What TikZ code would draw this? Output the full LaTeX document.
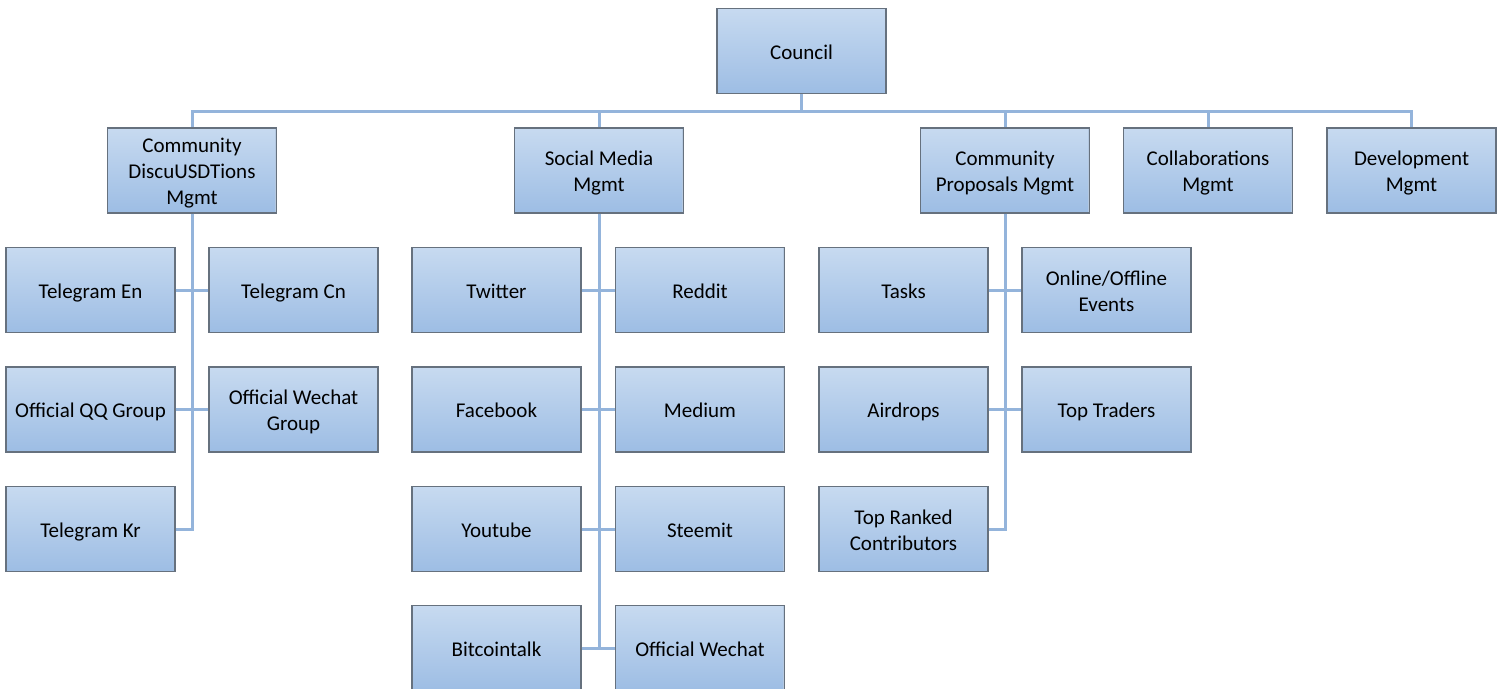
\documentclass[tikz,border=0pt]{standalone}
\usepackage{fontspec}
\setmainfont{Carlito}
\definecolor{topc}{HTML}{C7DAF0}
\definecolor{botc}{HTML}{9DBDE4}
\definecolor{edge}{HTML}{66717E}
\definecolor{redge}{HTML}{B4C8E0}
\definecolor{conn}{HTML}{94B4DB}
% lines of a box, with 6pt more room above than below
\newcommand\bx[1]{\begin{tabular}{@{}c@{}}\rule{0pt}{24.2pt}#1\end{tabular}}
\tikzset{
  orgbox/.style={rectangle, minimum width=169pt, minimum height=85pt, inner sep=0pt,
    top color=topc, bottom color=botc, draw=edge, line width=1.4pt,
    font=\fontsize{21pt}{26pt}\selectfont, text=black,
    path picture={\draw[redge, line width=2.2pt] (path picture bounding box.north east) -- (path picture bounding box.south east);}},
  link/.style={draw=conn, line width=3pt}
}
\begin{document}
\begin{tikzpicture}[x=1pt,y=-1pt]
\useasboundingbox (0,0) rectangle (1504,688);
% level 1
\node[orgbox] (council) at (801.5,51) {\bx{Council}};
% level 2
\node[orgbox] (cd) at (192,170.5) {\bx{Community\\DiscuUSDTions\\Mgmt}};
\node[orgbox] (sm) at (599,170.5) {\bx{Social Media\\Mgmt}};
\node[orgbox] (cp) at (1005,170.5) {\bx{Community\\Proposals Mgmt}};
\node[orgbox] (col) at (1208,170.5) {\bx{Collaborations\\Mgmt}};
\node[orgbox] (dev) at (1411.5,170.5) {\bx{Development\\Mgmt}};
% level 3 - community discussions
\node[orgbox] (tge) at (90.5,290) {\bx{Telegram En}};
\node[orgbox] (tgc) at (293.5,290) {\bx{Telegram Cn}};
\node[orgbox] (qq) at (90.5,409.5) {\bx{Official QQ Group}};
\node[orgbox] (wcg) at (293.5,409.5) {\bx{Official Wechat\\Group}};
\node[orgbox] (tkr) at (90.5,529) {\bx{Telegram Kr}};
% level 3 - social media
\node[orgbox] (tw) at (496.5,290) {\bx{Twitter}};
\node[orgbox] (rd) at (700,290) {\bx{Reddit}};
\node[orgbox] (fb) at (496.5,409.5) {\bx{Facebook}};
\node[orgbox] (md) at (700,409.5) {\bx{Medium}};
\node[orgbox] (yt) at (496.5,529) {\bx{Youtube}};
\node[orgbox] (st) at (700,529) {\bx{Steemit}};
\node[orgbox] (btc) at (496.5,648) {\bx{Bitcointalk}};
\node[orgbox] (owc) at (700,648) {\bx{Official Wechat}};
% level 3 - proposals
\node[orgbox] (tk) at (903.5,290) {\bx{Tasks}};
\node[orgbox] (ev) at (1106.5,290) {\bx{Online/Offline\\Events}};
\node[orgbox] (ad) at (903.5,409.5) {\bx{Airdrops}};
\node[orgbox] (tt) at (1106.5,409.5) {\bx{Top Traders}};
\node[orgbox] (trc) at (903.5,529) {\bx{Top Ranked\\Contributors}};
% connectors level 1 -> 2
\foreach \n in {cd,sm,cp,col,dev}
  \draw[link] (council.south) -- ++(0,17) -| (\n.north);
% community discussions
\draw[link] (cd.south) |- (tkr.east);
\draw[link] (tge.east) -- (tgc.west);
\draw[link] (qq.east) -- (wcg.west);
% social media
\draw[link] (sm.south) -- (sm.south |- btc.east);
\draw[link] (tw.east) -- (rd.west);
\draw[link] (fb.east) -- (md.west);
\draw[link] (yt.east) -- (st.west);
\draw[link] (btc.east) -- (owc.west);
% proposals
\draw[link] (cp.south) |- (trc.east);
\draw[link] (tk.east) -- (ev.west);
\draw[link] (ad.east) -- (tt.west);
\end{tikzpicture}
\end{document}
